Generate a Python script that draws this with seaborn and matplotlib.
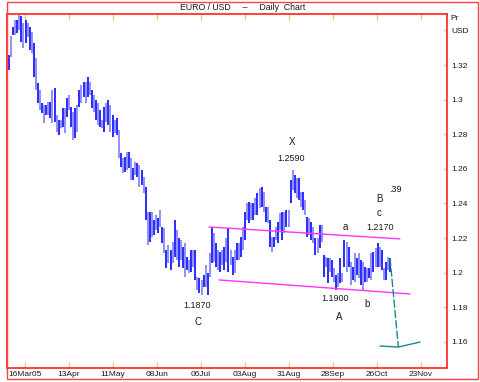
import numpy as np
import pandas as pd
import matplotlib
matplotlib.use("Agg")
import matplotlib.pyplot as plt
import seaborn as sns
from matplotlib.patches import Rectangle

sns.set_theme(style="white")
plt.rcParams['font.family'] = ['Liberation Sans Narrow', 'Liberation Sans', 'DejaVu Sans']

# daily high / low, EUR/USD, early Mar 2005 -> early Nov 2005
highs = [1.3258, 1.3368, 1.3420, 1.3460, 1.3460, 1.3489, 1.3484, 1.3443, 1.3460, 1.3443,
         1.3420, 1.3391, 1.3327, 1.3241, 1.3096, 1.3056, 1.2981, 1.2969, 1.2969, 1.2986,
         1.2986, 1.3056, 1.3067, 1.2911, 1.2882, 1.2882, 1.2952, 1.2952, 1.3010, 1.3027,
         1.2958, 1.2929, 1.2952, 1.2969, 1.3056, 1.3085, 1.3102, 1.3102, 1.3131, 1.3102,
         1.3056, 1.3027, 1.2998, 1.2981, 1.2940, 1.2882, 1.2958, 1.2981, 1.2998, 1.2969,
         1.2911, 1.2882, 1.2894, 1.2825, 1.2692, 1.2663, 1.2669, 1.2698, 1.2698, 1.2663,
         1.2605, 1.2640, 1.2634, 1.2622, 1.2593, 1.2553, 1.2495, 1.2351, 1.2351, 1.2351,
         1.2304, 1.2333, 1.2316, 1.2362, 1.2264, 1.2258, 1.2131, 1.2160, 1.2131, 1.2177,
         1.2304, 1.2247, 1.2200, 1.2189, 1.2148, 1.2171, 1.2091, 1.2073, 1.2131, 1.2131,
         1.2131, 1.1975, 1.1969, 1.1958, 1.1987, 1.2044, 1.1998, 1.2114, 1.2264, 1.2229,
         1.2171, 1.2131, 1.2120, 1.2131, 1.2148, 1.2200, 1.2258, 1.2131, 1.2091, 1.2131,
         1.2171, 1.2171, 1.2206, 1.2264, 1.2351, 1.2403, 1.2408, 1.2403, 1.2403, 1.2432,
         1.2461, 1.2489, 1.2495, 1.2466, 1.2380, 1.2380, 1.2304, 1.2206, 1.2206, 1.2264,
         1.2293, 1.2345, 1.2351, 1.2351, 1.2362, 1.2362, 1.2536, 1.2593, 1.2565, 1.2547,
         1.2547, 1.2466, 1.2466, 1.2420, 1.2322, 1.2316, 1.2293, 1.2264, 1.2200, 1.2200,
         1.2276, 1.2276, 1.2102, 1.2091, 1.2085, 1.2085, 1.2073, 1.2027, 1.1987, 1.1998,
         1.2085, 1.1998, 1.2189, 1.2177, 1.2148, 1.2062, 1.2033, 1.2114, 1.2085, 1.2114,
         1.2073, 1.2062, 1.2033, 1.2027, 1.2027, 1.2114, 1.2120, 1.2143, 1.2171, 1.2148,
         1.2131, 1.2027, 1.2062, 1.2091, 1.2085]
lows = [1.3171, 1.3247, 1.3374, 1.3374, 1.3385, 1.3403, 1.3333, 1.3299, 1.3327, 1.3362,
        1.3287, 1.3270, 1.3131, 1.3056, 1.2981, 1.2940, 1.2923, 1.2865, 1.2911, 1.2911,
        1.2894, 1.2865, 1.2871, 1.2813, 1.2796, 1.2836, 1.2842, 1.2807, 1.2900, 1.2940,
        1.2842, 1.2767, 1.2778, 1.2813, 1.2958, 1.2981, 1.3015, 1.2981, 1.3015, 1.3027,
        1.2952, 1.2929, 1.2882, 1.2853, 1.2842, 1.2836, 1.2813, 1.2871, 1.2853, 1.2813,
        1.2784, 1.2807, 1.2796, 1.2663, 1.2611, 1.2576, 1.2582, 1.2593, 1.2605, 1.2536,
        1.2536, 1.2565, 1.2553, 1.2495, 1.2507, 1.2461, 1.2304, 1.2160, 1.2177, 1.2206,
        1.2218, 1.2247, 1.2229, 1.2264, 1.2172, 1.2114, 1.2027, 1.2056, 1.2015, 1.2056,
        1.2091, 1.2073, 1.2033, 1.2073, 1.2027, 1.1975, 1.2015, 1.1998, 1.2004, 1.2033,
        1.1958, 1.1900, 1.1883, 1.1871, 1.1917, 1.1917, 1.1871, 1.1975, 1.2056, 1.2062,
        1.2033, 1.2015, 1.2004, 1.2044, 1.2015, 1.2062, 1.2004, 1.2044, 1.1987, 1.1998,
        1.2073, 1.2073, 1.2091, 1.2131, 1.2189, 1.2304, 1.2287, 1.2304, 1.2304, 1.2333,
        1.2333, 1.2374, 1.2380, 1.2351, 1.2293, 1.2287, 1.2148, 1.2120, 1.2148, 1.2189,
        1.2171, 1.2247, 1.2189, 1.2229, 1.2264, 1.2264, 1.2403, 1.2478, 1.2461, 1.2432,
        1.2420, 1.2380, 1.2362, 1.2333, 1.2206, 1.2218, 1.2189, 1.2171, 1.2102, 1.2114,
        1.2143, 1.2177, 1.1975, 1.2033, 1.1940, 1.2004, 1.1975, 1.1946, 1.1900, 1.1917,
        1.1940, 1.1946, 1.2033, 1.2004, 1.2033, 1.1929, 1.1958, 1.1946, 1.1987, 1.1969,
        1.1929, 1.1900, 1.1946, 1.1946, 1.1969, 1.1958, 1.2004, 1.2033, 1.2033, 1.2033,
        1.2015, 1.1958, 1.1958, 1.2015, 1.2004]

# x axis in days counted from 16 Mar 2005
first_day, last_day = -10.2, 232.3
tick_days = [0, 28, 56, 84, 112, 140, 168, 196, 224, 252]
tick_labels = ['16Mar05', '13Apr', '11May', '08Jun', '06Jul', '03Aug', '31Aug', '28Sep', '26Oct', '23Nov']
price_ticks = [1.16, 1.18, 1.20, 1.22, 1.24, 1.26, 1.28, 1.30, 1.32, 1.34]
price_labels = ['1.16', '1.18', '1.2', '1.22', '1.24', '1.26', '1.28', '1.3', '1.32', 'USD']

# channel lines and projected path
upper_day, upper_price = [117.1, 238.6], [1.2264, 1.2195]
lower_day, lower_price = [123.5, 245.0], [1.1958, 1.1877]
drop_day, drop_price = [232.3, 237.6], [1.2085, 1.1570]
base_day, base_price = [225.9, 237.6, 251.4], [1.1576, 1.1570, 1.1599]

labels = [('X', 170.0, 1.2755, 7), ('1.2590', 169.3, 1.2662, 6.5),
          ('1.1870', 109.5, 1.1813, 6.5), ('C', 110.0, 1.1714, 7),
          ('1.1900', 197.5, 1.1850, 6.5), ('A', 200.0, 1.1743, 7),
          ('b', 217.5, 1.1820, 7), ('a', 203.7, 1.2262, 7),
          ('1.2170', 226.0, 1.2261, 6.5), ('c', 225.6, 1.2345, 7),
          ('B', 225.6, 1.2425, 7), ('.39', 235.5, 1.2483, 6.5)]

W, H = 480, 382
fig = plt.figure(figsize=(4.8, 3.82), dpi=100)
ax = fig.add_axes([7 / W, 1 - 368 / H, 440 / W, 354 / H])

days = np.linspace(first_day, last_day, len(highs))
colors = ['#2a2aff' if i % 2 == 0 else '#8f8fff' for i in range(len(highs))]
ax.vlines(days, lows, highs, colors=colors, linewidth=1.4)

chan = pd.DataFrame({'day': upper_day + lower_day,
                     'price': upper_price + lower_price,
                     'line': ['up', 'up', 'lo', 'lo']})
sns.lineplot(data=chan, x='day', y='price', units='line', estimator=None,
             color='#ff33ff', linewidth=1.0, ax=ax)
ax.plot(drop_day, drop_price, color='#168a8a', linewidth=1.0, dashes=(6, 1.5))
sns.lineplot(x=base_day, y=base_price, color='#168a8a', linewidth=1.0,
             estimator=None, sort=False, ax=ax)

for txt, d, p, fs in labels:
    ax.text(d, p, txt, fontsize=fs, ha='center', va='center', color='#1a1a1a')

ax.set_xlim(-11.45, 268.55)
ax.set_ylim(1.1449, 1.3495)
ax.set_xlabel('')
ax.set_ylabel('')

ax.set_xticks(tick_days)
ax.set_xticklabels(tick_labels)
ax.set_yticks(price_ticks)
ax.set_yticklabels(price_labels)
ax.yaxis.tick_right()
ax.tick_params(axis='x', direction='in', length=4, color='#ffc080', width=1,
               top=True, bottom=True, labelsize=6, pad=2, labelcolor='#1a1a1a')
ax.tick_params(axis='y', direction='in', length=3, color='#ffc080', width=1,
               right=True, left=False, labelsize=6, pad=3, labelcolor='#1a1a1a')
for s in ax.spines.values():
    s.set_color('#ff3030')
    s.set_linewidth(1.3)
    s.set_visible(True)

fig.text(243 / W, 1 - 8 / H, 'EURO / USD     \u2013     Daily  Chart', fontsize=6.3,
         ha='center', va='center', color='#1a1a1a')
fig.text(450 / W, 1 - 18 / H, 'Pr', fontsize=6, ha='left', va='center', color='#1a1a1a')
fig.patches.append(Rectangle((7 / W, 1 - 379 / H), 471 / W, 377 / H, transform=fig.transFigure,
                             fill=False, edgecolor='#ff4040', linewidth=1.0))

fig.savefig('out.png', dpi=100)
